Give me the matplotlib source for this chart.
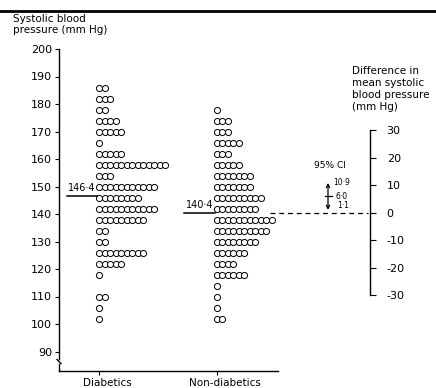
import numpy as np
import matplotlib
matplotlib.use("Agg")
import matplotlib.pyplot as plt
from matplotlib.lines import Line2D
from matplotlib.transforms import ScaledTranslation, blended_transform_factory

# blood pressure rows (mm Hg) and number of subjects in each row
diab_bp = [102, 106, 110, 118, 122, 126, 130, 134, 138, 142, 146,
           150, 154, 158, 162, 166, 170, 174, 178, 182, 186]
diab_n = [1, 1, 2, 1, 5, 9, 2, 2, 9, 11, 8, 11, 3, 13, 5, 1, 5, 4, 2, 3, 2]

nondiab_bp = [102, 106, 110, 114, 118, 122, 126, 130, 134, 138,
              142, 146, 150, 154, 158, 162, 166, 170, 174, 178]
nondiab_n = [2, 1, 1, 1, 6, 4, 6, 8, 10, 11, 8, 9, 7, 7, 5, 3, 5, 3, 3, 1]

group_names = ["Diabetics", "Non-diabetics"]
group_means = [146.4, 140.4]
mean_labels = ["146·4", "140·4"]

ci_values = [1.1, 6.0, 10.9]
ci_labels = ["1·1", "6·0", "10·9"]
left_ticks = list(range(90, 201, 10))
diff_ticks = list(range(-30, 31, 10))

W, H, DPI = 436, 388, 100
plt.rcParams["font.family"] = "DejaVu Sans"
plt.rcParams["axes.unicode_minus"] = False
fig = plt.figure(figsize=(W / DPI, H / DPI), dpi=DPI)

def px(x0, y_top, w, h):
    # pixel box -> figure fraction
    return [x0 / W, 1 - (y_top + h) / H, w / W, h / H]

# main axes: x from 59 to 278 px, y from 49 (200) to 371 px
ax = fig.add_axes(px(59, 49, 219, 322))
ylo = 200 - 322 / 2.75
ax.set_ylim(ylo, 200)
ax.set_xlim(0, 219 / 5.5)   # one x unit = one circle
group_x = [7.36, 28.7]

for gx, bp, n in [(group_x[0], diab_bp, diab_n), (group_x[1], nondiab_bp, nondiab_n)]:
    xs = np.concatenate([gx + np.arange(k) for k in n])
    ys = np.repeat(bp, n)
    ax.plot(xs, ys, ls="none", marker="o", ms=4.4, mfc="white", mec="black",
            mew=0.7, clip_on=False)

for gx, m, lab in zip(group_x, group_means, mean_labels):
    ax.plot([gx - 5.9, gx - 0.4], [m, m], color="black", lw=1.1)
    ax.text(gx - 3.2, m + 1.2, lab, ha="center", va="bottom", fontsize=7)

# spines
for s in ["top", "right", "left"]:
    ax.spines[s].set_visible(False)
ax.spines["bottom"].set_linewidth(1.0)
ax.plot([0, 0], [87.45, 200], color="black", lw=1.0, clip_on=False)
ax.plot([-0.36, 0.36], [87.1, 85.6], color="black", lw=1.0, clip_on=False)
ax.plot([0, 0], [ylo, 85.6], color="black", lw=1.0, clip_on=False)

ax.set_yticks(left_ticks)
ax.tick_params(axis="y", direction="out", length=3, width=0.8, pad=2, labelsize=8)
ax.set_xticks(group_x)
ax.set_xticklabels(group_names)
ax.tick_params(axis="x", direction="out", length=3, width=0.8, pad=2, labelsize=7.5)
for lab in ax.get_xticklabels():
    lab.set_transform(lab.get_transform() + ScaledTranslation(0.08, 0, fig.dpi_scale_trans))

fig.text(13 / W, 1 - 14 / H, "Systolic blood\npressure (mm Hg)", ha="left", va="top",
         fontsize=7.5, linespacing=1.1)

# difference axis on the right, spine at x = 370 px
ax2 = fig.add_axes(px(360, 49, 10, 322))
ax2.set_ylim(ylo - group_means[1], 200 - group_means[1])
ax2.set_xlim(0, 1)
for s in ["top", "left", "bottom"]:
    ax2.spines[s].set_visible(False)
ax2.patch.set_visible(False)
ax2.spines["right"].set_bounds(diff_ticks[0], diff_ticks[-1])
ax2.spines["right"].set_linewidth(1.0)
ax2.set_xticks([])
ax2.yaxis.tick_right()
ax2.set_yticks(diff_ticks)
ax2.tick_params(axis="y", direction="out", length=4, width=0.8, pad=8, labelsize=8)

fig.text(352 / W, 1 - 66 / H, "Difference in\nmean systolic\nblood pressure\n(mm Hg)",
         ha="left", va="top", fontsize=7.5, linespacing=1.25)

tr = blended_transform_factory(fig.transFigure, ax2.transData)
ax2.plot([270 / W, 368 / W], [0, 0], transform=tr, color="black", lw=0.9,
         dashes=(4, 3), clip_on=False)

# confidence interval
ax2.annotate("", xy=(328 / W, ci_values[2]), xytext=(328 / W, ci_values[0]),
             xycoords=tr, textcoords=tr,
             arrowprops=dict(arrowstyle="<->", lw=0.9, color="black",
                             mutation_scale=6, shrinkA=0, shrinkB=0))
ax2.plot([325 / W, 332 / W], [ci_values[1], ci_values[1]], transform=tr,
         color="black", lw=0.9, clip_on=False)
ax2.text(333 / W, ci_values[2], ci_labels[2], transform=tr, fontsize=5.5, va="center")
ax2.text(335 / W, ci_values[1], ci_labels[1], transform=tr, fontsize=5.5, va="center")
ax2.text(337 / W, ci_values[0], ci_labels[0], transform=tr, fontsize=5.5, va="bottom")
ax2.text(330 / W, 17.2, "95% CI", transform=tr, fontsize=6.5, ha="center", va="center")

# top rule
fig.add_artist(Line2D([0, 1], [1 - 10.5 / H, 1 - 10.5 / H], transform=fig.transFigure,
                      color="black", lw=2))

fig.savefig("out.png", dpi=DPI)
